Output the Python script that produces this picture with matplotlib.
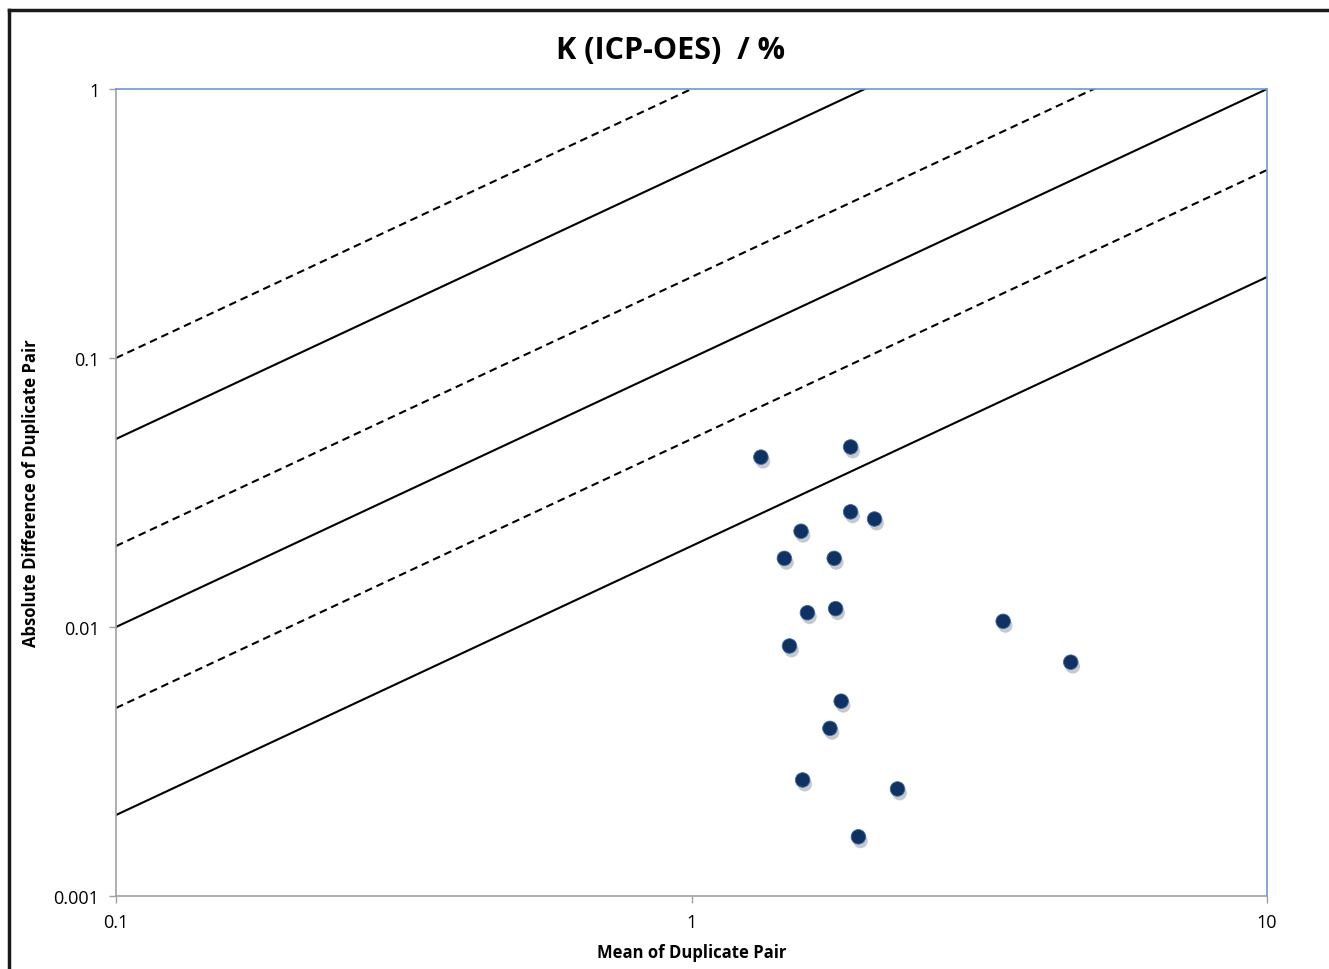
import numpy as np
import matplotlib.pyplot as plt
import matplotlib.patheffects as pe
from matplotlib.lines import Line2D

# data
mean_pair = [1.32, 1.89, 1.89, 2.08, 1.55, 1.45, 1.77, 1.59, 1.78, 1.48,
             3.48, 4.56, 1.82, 1.74, 1.56, 2.28, 1.95]
abs_diff = [0.0428, 0.0467, 0.0268, 0.0252, 0.0227, 0.0180, 0.0180, 0.0113, 0.0117, 0.0085,
            0.0105, 0.0074, 0.0053, 0.0042, 0.0027, 0.0025, 0.00166]

# reference lines y = ratio * x
ratios = [1, 0.5, 0.2, 0.1, 0.05, 0.02]
dashed = [True, False, True, False, True, False]
x_range = [0.1, 10]

xticks = [0.1, 1, 10]
xtick_labels = ['0.1', '1', '10']
yticks = [0.001, 0.01, 0.1, 1]
ytick_labels = ['0.001', '0.01', '0.1', '1']

plt.rcParams['font.family'] = ['Open Sans', 'DejaVu Sans']
plt.rcParams['lines.scale_dashes'] = False

fig = plt.figure(figsize=(13.29, 9.70), dpi=100)
ax = fig.add_axes([116/1329, 1-897/970, (1267-116)/1329, (897-90)/970])

xr = np.array(x_range)
for r, d in zip(ratios, dashed):
    ls = (0, (5.5, 3.5)) if d else '-'
    ax.plot(xr, r*xr, color='black', lw=1.5, linestyle=ls, zorder=2)

ax.scatter(mean_pair, abs_diff, s=110, color='#0f3263', edgecolors='#3d6cab', linewidths=0.6, zorder=3,
           path_effects=[pe.SimplePatchShadow(offset=(1.5, -3), shadow_rgbFace='#888888', alpha=0.45),
                         pe.Normal()])

ax.set_xscale('log')
ax.set_yscale('log')
ax.set_xlim(0.1, 10)
ax.set_ylim(0.001, 1)
ax.minorticks_off()
ax.set_xticks(xticks)
ax.set_yticks(yticks)
ax.set_xticklabels(xtick_labels, fontsize=13)
ax.set_yticklabels(ytick_labels, fontsize=13)
ax.minorticks_off()
ax.tick_params(axis='both', which='major', length=5, width=1, color='#a0a0a0', pad=7)

for s in ['left', 'bottom']:
    ax.spines[s].set_color('#a0a0a0')
for s in ['top', 'right']:
    ax.spines[s].set_color('#6a9ad8')
for s in ax.spines.values():
    s.set_linewidth(1.2)

ax.set_title('K (ICP-OES)  / %', fontsize=22, fontweight='bold', pad=22, x=0.482)
ax.set_xlabel('Mean of Duplicate Pair', fontsize=12, fontweight='bold', labelpad=9)
ax.set_ylabel('Absolute Difference of Duplicate Pair', fontsize=12, fontweight='bold', labelpad=10)

# outer frame
fig.add_artist(Line2D([9/1329, 1.0], [1-11/970, 1-11/970], color='#1a1a1a', lw=2.5, transform=fig.transFigure))
fig.add_artist(Line2D([9/1329, 9/1329], [0.0, 1-11/970], color='#1a1a1a', lw=2.5, transform=fig.transFigure))

plt.savefig('out.png', dpi=100)
